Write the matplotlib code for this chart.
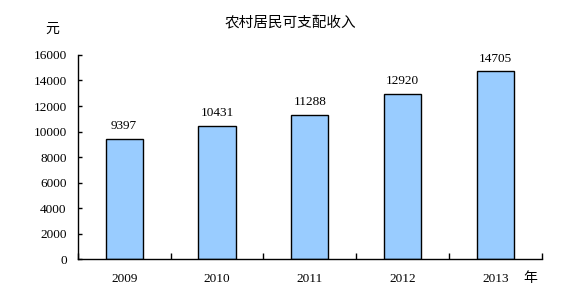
import matplotlib.pyplot as plt
import numpy as np

plt.rcParams['font.family'] = ['Liberation Serif', 'Noto Sans CJK SC']

years = ['2009', '2010', '2011', '2012', '2013']
income = [9397, 10431, 11288, 12920, 14705]
yticks = [0, 2000, 4000, 6000, 8000, 10000, 12000, 14000, 16000]

fig = plt.figure(figsize=(5.72, 3.02), dpi=100)
ax = fig.add_axes([0.136, 0.142, 0.811, 0.676])

x = np.arange(len(years))
ax.bar(x, income, width=0.4, color='#99CCFF', edgecolor='black', linewidth=1)
for xi, v in zip(x, income):
    ax.annotate(str(v), (xi, v), xytext=(0, 5), textcoords='offset points',
                ha='center', va='bottom', fontsize=9.5)

ax.set_xlim(-0.5, len(years) - 0.5)
ax.set_ylim(0, 16000)
ax.set_yticks(yticks)
ax.set_yticklabels([str(t) for t in yticks], fontsize=9.5)
ax.set_xticks(x)
ax.set_xticklabels(years, fontsize=9.5)
ax.set_xticks(np.arange(len(years) + 1) - 0.5, minor=True)
ax.tick_params(axis='x', which='major', length=0, pad=10)
ax.tick_params(axis='x', which='minor', length=4, direction='in', width=1)
ax.tick_params(axis='y', length=3, direction='in', width=1, pad=8)
ax.spines['top'].set_visible(False)
ax.spines['right'].set_visible(False)
ax.spines['left'].set_linewidth(1)
ax.spines['bottom'].set_linewidth(1)

fig.text(0.507, 0.927, '农村居民可支配收入', ha='center', va='center', fontsize=10.5,
         family=['Noto Sans CJK SC'])
fig.text(0.091, 0.904, '元', ha='center', va='center', fontsize=10,
         family=['Noto Sans CJK SC'])
fig.text(0.927, 0.079, '年', ha='center', va='center', fontsize=10,
         family=['Noto Sans CJK SC'])

fig.savefig('out.png', dpi=100)
